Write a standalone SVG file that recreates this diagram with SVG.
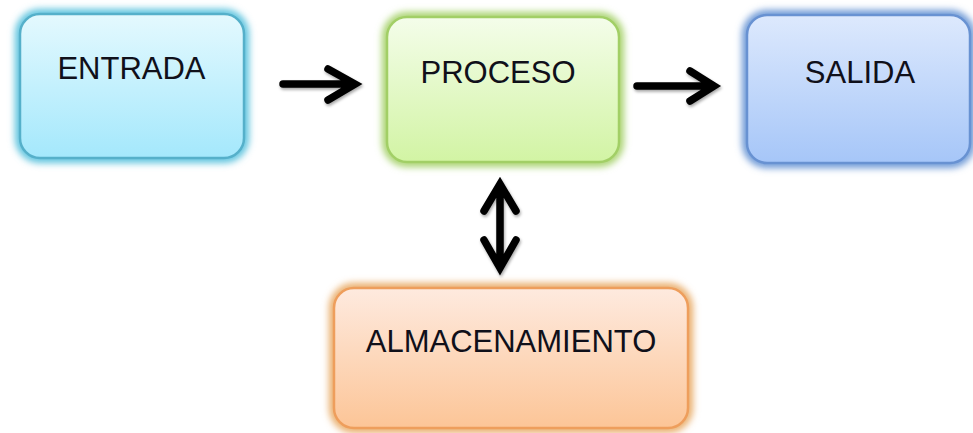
<svg xmlns="http://www.w3.org/2000/svg" width="973" height="433" viewBox="0 0 973 433">
<defs>
<linearGradient id="gBlue" x1="0" y1="0" x2="0" y2="1"><stop offset="0" stop-color="#e4f9fe"/><stop offset="1" stop-color="#a4e8fc"/></linearGradient>
<linearGradient id="gGreen" x1="0" y1="0" x2="0" y2="1"><stop offset="0" stop-color="#f4fdea"/><stop offset="1" stop-color="#d2f4a4"/></linearGradient>
<linearGradient id="gSky" x1="0" y1="0" x2="0" y2="1"><stop offset="0" stop-color="#dde9fd"/><stop offset="1" stop-color="#a6c6f8"/></linearGradient>
<linearGradient id="gOrange" x1="0" y1="0" x2="0" y2="1"><stop offset="0" stop-color="#feeadf"/><stop offset="1" stop-color="#fcc597"/></linearGradient>
<filter id="glow" x="-20%" y="-20%" width="140%" height="140%"><feGaussianBlur stdDeviation="3.5"/></filter>
<filter id="shadow" x="-20%" y="-20%" width="140%" height="140%"><feDropShadow dx="1" dy="2" stdDeviation="1.5" flood-color="#000" flood-opacity="0.35"/></filter>
</defs>
<style>
.lbl{font-family:"Liberation Sans",Arial,sans-serif;font-size:31px;fill:#10101a;text-anchor:middle}
.halo{fill:none;stroke-width:10;filter:url(#glow)}
.box{stroke-width:2.5}
.arr{fill:none;stroke:#000;stroke-width:7.5;stroke-linecap:round;stroke-linejoin:miter}
</style>
<rect width="973" height="433" fill="#ffffff"/>
<g id="entrada">
<rect class="halo" x="20" y="14" width="224" height="144" rx="20" stroke="#5cc3de"/>
<rect class="box" x="20" y="14" width="224" height="144" rx="20" fill="url(#gBlue)" stroke="#55b0ca"/>
<text class="lbl" x="131.5" y="79">ENTRADA</text>
</g>
<g id="proceso">
<rect class="halo" x="387" y="17" width="232" height="145" rx="20" stroke="#a9d370"/>
<rect class="box" x="387" y="17" width="232" height="145" rx="20" fill="url(#gGreen)" stroke="#a2cf66"/>
<text class="lbl" x="498" y="83">PROCESO</text>
</g>
<g id="salida">
<rect class="halo" x="747" y="15" width="223" height="148" rx="20" stroke="#6c98d6"/>
<rect class="box" x="747" y="15" width="223" height="148" rx="20" fill="url(#gSky)" stroke="#6892d2"/>
<text class="lbl" x="860" y="83">SALIDA</text>
</g>
<g id="almacenamiento">
<rect class="halo" x="334" y="288" width="354" height="140" rx="20" stroke="#e9ad6a"/>
<rect class="box" x="334" y="288" width="354" height="140" rx="20" fill="url(#gOrange)" stroke="#ee9e5c"/>
<text class="lbl" x="511" y="352">ALMACENAMIENTO</text>
</g>
<g id="connectors" filter="url(#shadow)">
<path class="arr" d="M283 84 H352 M328 69 L355 84 L328 100"/>
<path class="arr" d="M637 86 H711 M690 71 L714 86 L690 101"/>
<path class="arr" d="M500 186 V266 M484 211 L500 184 L516 211 M484 240 L500 268 L516 240"/>
</g>
</svg>
